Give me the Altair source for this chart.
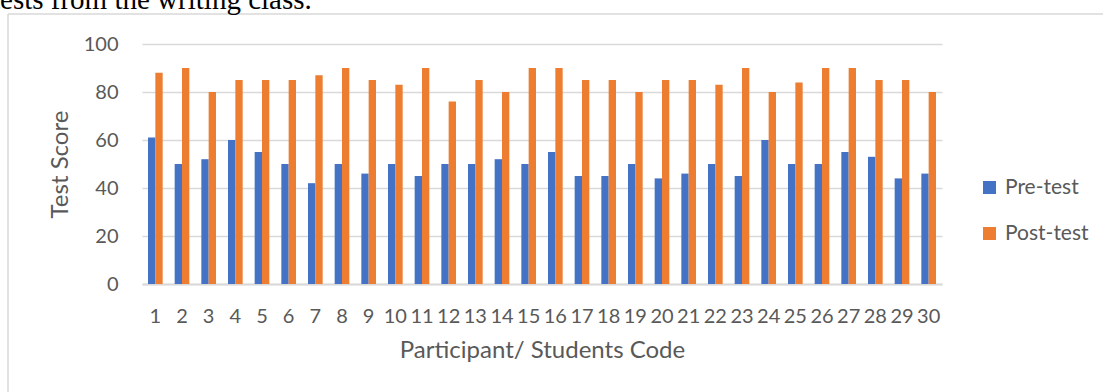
import altair as alt
import pandas as pd

students = list(range(1, 31))
pre_test = [61, 50, 52, 60, 55, 50, 42, 50, 46, 50, 45, 50, 50, 52, 50,
            55, 45, 45, 50, 44, 46, 50, 45, 60, 50, 50, 55, 53, 44, 46]
post_test = [88, 90, 80, 85, 85, 85, 87, 90, 85, 83, 90, 76, 85, 80, 90,
             90, 85, 85, 80, 85, 85, 83, 90, 80, 84, 90, 90, 85, 85, 80]
series = ["Pre-test", "Post-test"]
colors = ["#4472C4", "#ED7D31"]
y_ticks = [0, 20, 40, 60, 80, 100]
caption = "tests from the writing class."

rows = []
for s, a, b in zip(students, pre_test, post_test):
    rows.append({"student": s, "series": series[0], "score": a})
    rows.append({"student": s, "series": series[1], "score": b})
df = pd.DataFrame(rows)

FONT = "Lato"
TXT = "#595959"
GRID = "#D9D9D9"

bars = alt.Chart(df).mark_bar().encode(
    x=alt.X(
        "student:O",
        sort=students,
        scale=alt.Scale(paddingInner=0.45, paddingOuter=0.225),
        axis=alt.Axis(
            title="Participant/ Students Code",
            labelAngle=0,
            labelFont=FONT,
            labelFontSize=20,
            labelColor=TXT,
            labelPadding=22,
            ticks=False,
            tickSize=0,
            domainColor=GRID,
            domainWidth=2,
            grid=False,
            titleFont=FONT,
            titleFontSize=24,
            titleFontWeight="normal",
            titleColor=TXT,
            titlePadding=12,
            labelOverlap=False,
        ),
    ),
    xOffset=alt.XOffset("series:N", sort=series, scale=alt.Scale(domain=series)),
    y=alt.Y(
        "score:Q",
        scale=alt.Scale(domain=[0, 100], nice=False),
        axis=alt.Axis(
            values=y_ticks,
            title="Test Score",
            labelFont=FONT,
            labelFontSize=20,
            labelColor=TXT,
            labelPadding=24,
            ticks=False,
            tickSize=0,
            domain=False,
            gridColor=GRID,
            gridWidth=1.5,
            titleFont=FONT,
            titleFontSize=24,
            titleFontWeight="normal",
            titleColor=TXT,
            titlePadding=11,
        ),
    ),
    color=alt.Color(
        "series:N",
        sort=series,
        scale=alt.Scale(domain=series, range=colors),
        legend=alt.Legend(
            title=None,
            orient="none",
            legendX=837,
            legendY=133,
            symbolType="square",
            symbolSize=169,
            symbolStrokeWidth=0,
            labelFont=FONT,
            labelFontSize=21,
            labelColor=TXT,
            labelOffset=5,
            rowPadding=24,
        ),
    ),
)

one = pd.DataFrame({"k": [0]})
border_left = alt.Chart(one).mark_rule(color=GRID, strokeWidth=1.5).encode(
    x=alt.value(-134), y=alt.value(-30), y2=alt.value(400)
)
border_top = alt.Chart(one).mark_rule(color=GRID, strokeWidth=1.5).encode(
    x=alt.value(-134), x2=alt.value(1000), y=alt.value(-30)
)
cap = alt.Chart(one).mark_text(
    font="Liberation Serif", fontSize=29, align="left", baseline="alphabetic", color="#000000"
).encode(x=alt.value(-150), y=alt.value(-35), text=alt.value(caption))

chart = alt.layer(border_left, border_top, cap, bars).properties(
    width=800,
    height=240,
    padding={"left": 142, "top": 44, "right": 161, "bottom": 108},
    autosize=alt.AutoSizeParams(type="none"),
    background="white",
).configure_view(stroke=None)

chart.save("out.html", embed_options={"renderer": "svg", "actions": False})
